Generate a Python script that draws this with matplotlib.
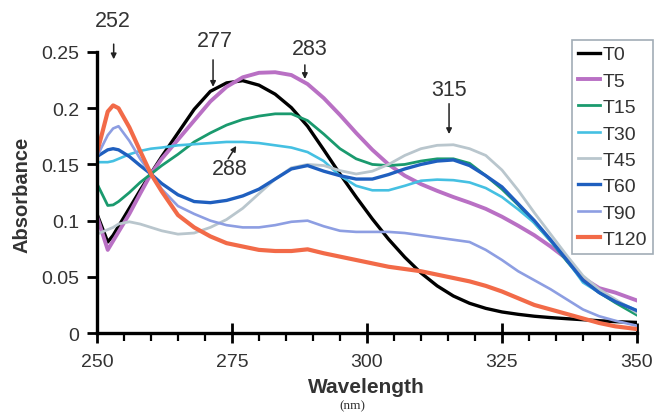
import matplotlib
matplotlib.use("Agg")
import matplotlib.pyplot as plt
from matplotlib.ticker import MultipleLocator

plt.rcParams['font.family'] = ['Liberation Sans', 'DejaVu Sans']

# wavelength grid (nm)
wavelength = [250, 252, 253, 254, 256, 258, 260, 262, 265, 268, 271, 274, 277, 280,
              283, 286, 289, 292, 295, 298, 301, 304, 307, 310, 313, 316, 319, 322,
              325, 328, 331, 334, 337, 340, 343, 346, 350]

t0 = [0.106, 0.081, 0.087, 0.095, 0.111, 0.127, 0.142, 0.157, 0.178, 0.199, 0.215, 0.2225,
      0.2245, 0.2205, 0.2125, 0.2005, 0.184, 0.163, 0.1415, 0.121, 0.1015, 0.0835, 0.0675,
      0.0535, 0.042, 0.033, 0.0265, 0.022, 0.0188, 0.0167, 0.015, 0.0138, 0.0128, 0.0119,
      0.011, 0.0102, 0.0095]
t5 = [0.104, 0.074, 0.082, 0.090, 0.106, 0.124, 0.1415, 0.155, 0.172, 0.189, 0.206, 0.219,
      0.2275, 0.2315, 0.232, 0.2295, 0.2215, 0.209, 0.194, 0.178, 0.163, 0.150, 0.140, 0.1325,
      0.1265, 0.121, 0.116, 0.1105, 0.1035, 0.0955, 0.087, 0.077, 0.066, 0.049, 0.040, 0.036,
      0.029]
t15 = [0.133, 0.1135, 0.114, 0.117, 0.125, 0.134, 0.1415, 0.149, 0.159, 0.170, 0.178, 0.185,
       0.190, 0.193, 0.195, 0.195, 0.189, 0.177, 0.164, 0.155, 0.150, 0.149, 0.150, 0.153,
       0.155, 0.155, 0.151, 0.140, 0.128, 0.114, 0.098, 0.082, 0.064, 0.047, 0.036, 0.027,
       0.016]
t30 = [0.152, 0.152, 0.153, 0.155, 0.159, 0.162, 0.164, 0.165, 0.167, 0.168, 0.169, 0.170,
       0.170, 0.169, 0.167, 0.165, 0.161, 0.153, 0.140, 0.131, 0.127, 0.127, 0.131, 0.1355,
       0.1365, 0.136, 0.134, 0.129, 0.121, 0.110, 0.098, 0.082, 0.065, 0.045, 0.036, 0.029,
       0.020]
t45 = [0.088, 0.092, 0.094, 0.097, 0.099, 0.097, 0.094, 0.091, 0.088, 0.089, 0.094, 0.101,
       0.111, 0.124, 0.137, 0.147, 0.150, 0.149, 0.1445, 0.1415, 0.144, 0.150, 0.158, 0.164,
       0.167, 0.1675, 0.164, 0.158, 0.145, 0.127, 0.107, 0.088, 0.069, 0.051, 0.039, 0.030,
       0.018]
t60 = [0.157, 0.163, 0.164, 0.163, 0.157, 0.149, 0.1415, 0.133, 0.123, 0.117, 0.116, 0.118,
       0.122, 0.128, 0.137, 0.146, 0.149, 0.144, 0.140, 0.137, 0.137, 0.141, 0.146, 0.150,
       0.153, 0.154, 0.149, 0.140, 0.130, 0.115, 0.100, 0.083, 0.065, 0.047, 0.036, 0.028,
       0.020]
t90 = [0.157, 0.176, 0.182, 0.184, 0.171, 0.155, 0.1415, 0.128, 0.113, 0.106, 0.100, 0.096,
       0.094, 0.094, 0.096, 0.099, 0.100, 0.095, 0.091, 0.090, 0.090, 0.090, 0.089, 0.087,
       0.085, 0.083, 0.081, 0.074, 0.065, 0.055, 0.047, 0.039, 0.030, 0.021, 0.015, 0.011,
       0.0065]
t120 = [0.160, 0.197, 0.2025, 0.200, 0.183, 0.162, 0.1415, 0.126, 0.105, 0.094, 0.086, 0.080,
        0.077, 0.074, 0.073, 0.073, 0.0745, 0.071, 0.068, 0.065, 0.062, 0.059, 0.057, 0.055,
        0.052, 0.049, 0.046, 0.042, 0.037, 0.031, 0.025, 0.021, 0.017, 0.013, 0.009, 0.006,
        0.0036]

labels = ['T0', 'T5', 'T15', 'T30', 'T45', 'T60', 'T90', 'T120']
series = [t0, t5, t15, t30, t45, t60, t90, t120]
colors = ['#000000', '#b970c4', '#1a9a6e', '#45c0e2', '#b9c6cd', '#1f5fbf', '#8d9ee2', '#f26a48']
widths = [2.4, 2.8, 2.0, 1.9, 2.0, 2.4, 1.9, 3.0]

# peak annotations: text, text position, arrow tail, arrow tip
peak_text = ['252', '277', '283', '288', '315']
peak_pos = [(253.0, 0.278), (271.9, 0.260), (289.4, 0.253), (274.6, 0.146), (315.2, 0.217)]
arrow_tail = [(253.1, 0.257), (271.5, 0.243), (288.5, 0.2385), (274.3, 0.155), (315.2, 0.204)]
arrow_tip = [(253.1, 0.2435), (271.5, 0.219), (288.5, 0.226), (275.8, 0.1665), (315.2, 0.177)]

fig = plt.figure(figsize=(6.55, 4.14), dpi=100)
ax = fig.add_axes([0.148, 0.193, 0.8245, 0.679])

for y, lab, c, w in zip(series, labels, colors, widths):
    ax.plot(wavelength, y, color=c, lw=w, label=lab, solid_joinstyle='round')

ax.set_xlim(250, 350)
ax.set_ylim(0, 0.25)
ax.xaxis.set_major_locator(MultipleLocator(25))
ax.xaxis.set_minor_locator(MultipleLocator(5))
ax.set_yticks([0, 0.05, 0.1, 0.15, 0.2, 0.25])
ax.set_yticklabels(['0', '0.05', '0.1', '0.15', '0.2', '0.25'])

for s in ['top', 'right']:
    ax.spines[s].set_visible(False)
for s in ['left', 'bottom']:
    ax.spines[s].set_linewidth(2.4)

ax.tick_params(axis='y', which='major', direction='out', length=7, width=2,
               labelsize=14, labelcolor='#333333', pad=6)
ax.tick_params(axis='x', which='major', direction='inout', length=14, width=2,
               labelsize=14, labelcolor='#333333', pad=7)
ax.tick_params(axis='x', which='minor', direction='out', length=6, width=1.6)

for t, p, a, b in zip(peak_text, peak_pos, arrow_tail, arrow_tip):
    ax.annotate('', xy=b, xytext=a, annotation_clip=False,
                arrowprops=dict(arrowstyle='-|>', color='#222222', lw=1.1,
                                mutation_scale=8, shrinkA=0, shrinkB=0))
    ax.text(p[0], p[1], t, fontsize=15.5, color='#333333', ha='center', va='center',
            clip_on=False)

leg = ax.legend(loc='upper left', bbox_to_anchor=(0.874, 0.901), bbox_transform=fig.transFigure,
                fontsize=14, frameon=True, fancybox=False, handlelength=1.1,
                handletextpad=0.15, labelspacing=0.45, borderpad=0.3, borderaxespad=0)
leg.get_frame().set_edgecolor('#8a98a4')
leg.get_frame().set_linewidth(1.2)
for t in leg.get_texts():
    t.set_color('#333333')

fig.text(22 / 655, 1 - 195 / 414, 'Absorbance', rotation=90, ha='center', va='center',
         fontsize=14.5, fontweight='bold', color='#333333')
fig.text(366 / 655, 1 - 388 / 414, 'Wavelength', ha='center', va='center',
         fontsize=15, fontweight='bold', color='#333333')
fig.text(352 / 655, 1 - 406 / 414, '(nm)', ha='center', va='center',
         fontsize=9.5, family='Liberation Serif', color='#333333')

fig.savefig('out.png', dpi=100)
